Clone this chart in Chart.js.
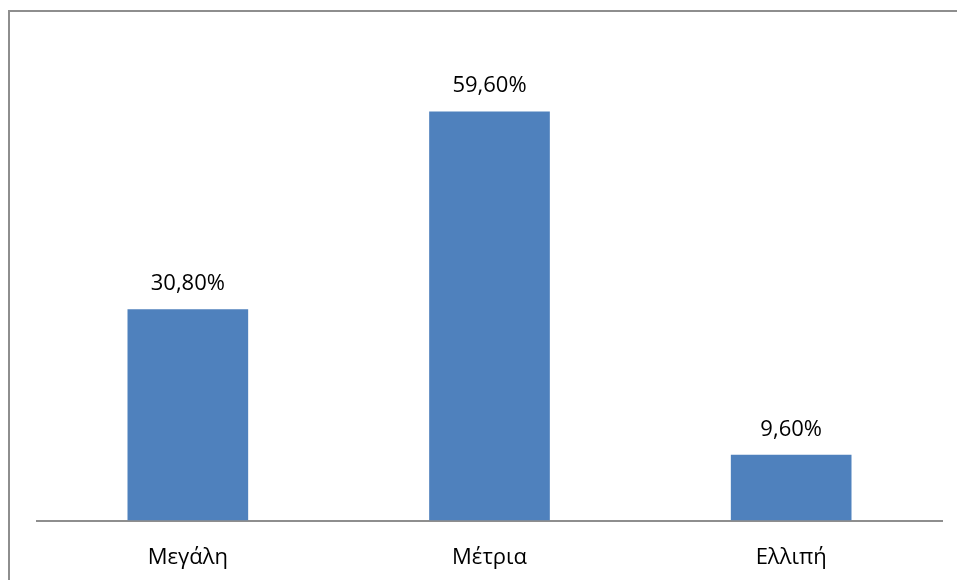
<!DOCTYPE html>
<html>
<head>
<meta charset="utf-8">
<script src="https://cdn.jsdelivr.net/npm/chart.js@4/dist/chart.umd.min.js"></script>
<style>
  html, body { margin: 0; padding: 0; background: #fff; }
  #wrap { position: relative; width: 957px; height: 580px; overflow: hidden; }
  #frame { position: absolute; left: 8px; top: 10px; width: 960px; height: 600px;
           border-left: 2px solid #8e8e8e; border-top: 2px solid #8e8e8e; }
  canvas { position: absolute; left: 0; top: 0; }
</style>
</head>
<body>
<div id="wrap">
  <div id="frame"></div>
  <canvas id="myChart" width="957" height="580"></canvas>
</div>
<script>
var categories = ["Μεγάλη", "Μέτρια", "Ελλιπή"];
var values = [30.8, 59.6, 9.6];
var yTicks = [0, 70];

var FONT = "'Open Sans', 'Noto Sans', sans-serif";

// labels above bars, e.g. 30,80%
var valueLabels = {
	id: "valueLabels",
	afterDatasetsDraw: function (chart) {
		var ctx = chart.ctx;
		var meta = chart.getDatasetMeta(0);
		ctx.save();
		ctx.font = "22px " + FONT;
		ctx.fillStyle = "#000";
		ctx.textAlign = "center";
		ctx.textBaseline = "alphabetic";
		meta.data.forEach(function (bar, i) {
			var txt = values[i].toFixed(2).replace(".", ",") + "%";
			ctx.fillText(txt, bar.x, bar.y - 19);
		});
		ctx.restore();
	}
};

var ctx = document.getElementById("myChart").getContext("2d");
var chart = new Chart(ctx, {
	type: "bar",
	data: {
		labels: categories,
		datasets: [{
			data: values,
			backgroundColor: "#4f81bd",
			borderWidth: 0,
			barPercentage: 0.4,
			categoryPercentage: 1.0
		}]
	},
	options: {
		responsive: false,
		animation: false,
		layout: { padding: { left: 37, right: 15, top: 40, bottom: 9 } },
		plugins: { legend: { display: false }, tooltip: { enabled: false } },
		scales: {
			x: {
				grid: { display: false, drawTicks: true, tickLength: 24 },
				border: { display: true, color: "#8e8e8e", width: 2 },
				ticks: { color: "#000", font: { family: FONT, size: 22 }, padding: 0 }
			},
			y: {
				display: false,
				min: yTicks[0],
				max: yTicks[1]
			}
		}
	},
	plugins: [valueLabels]
});
</script>
</body>
</html>
